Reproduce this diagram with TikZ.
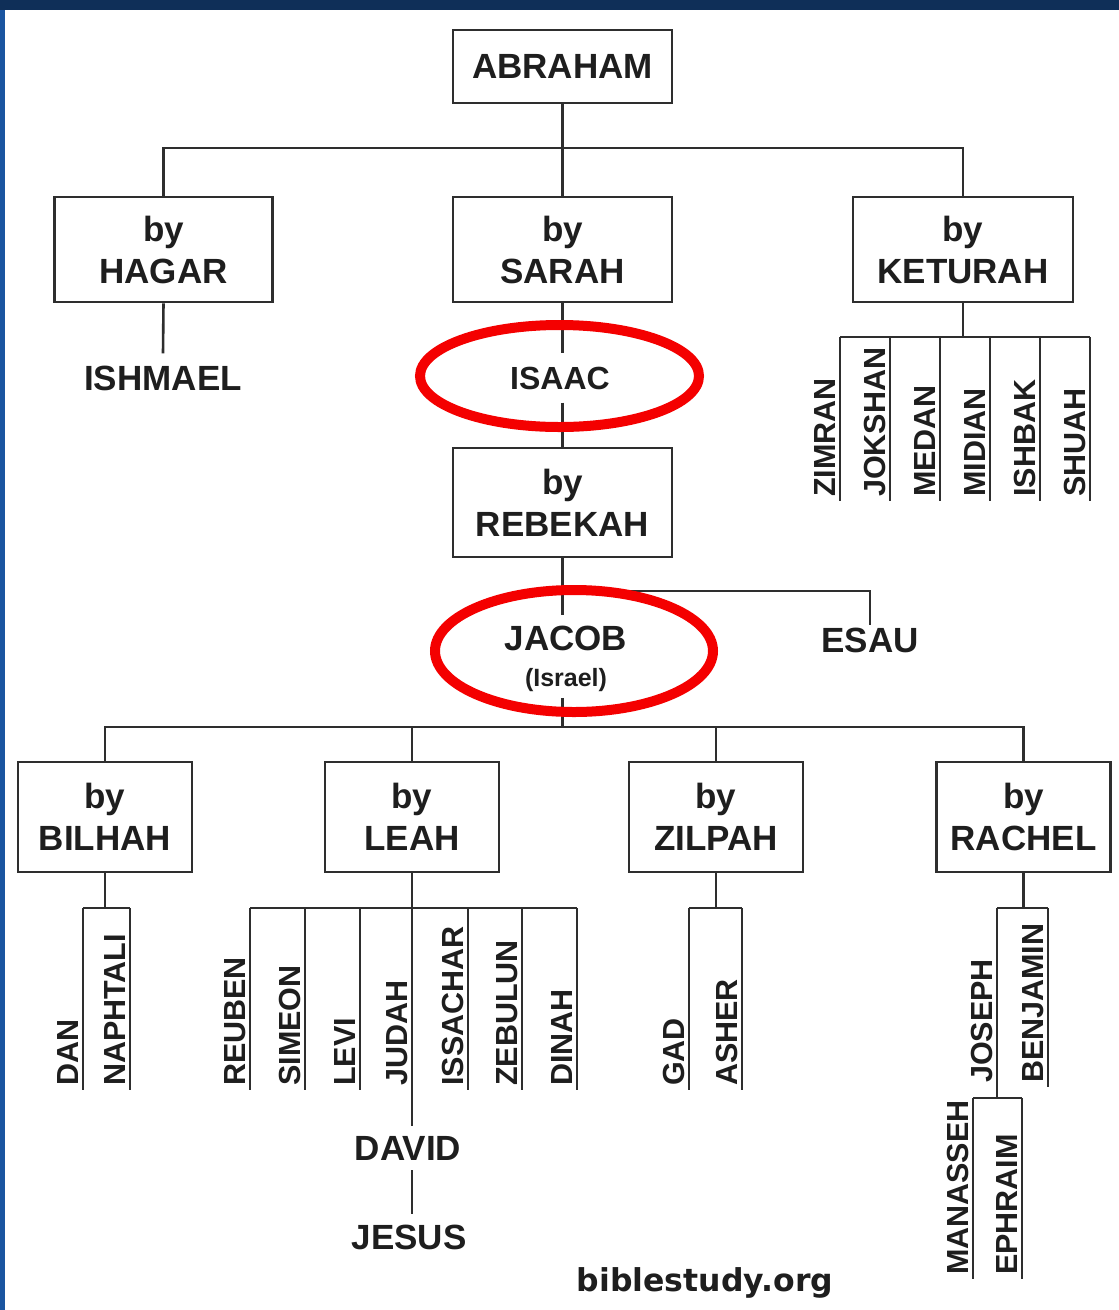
\documentclass[tikz,border=0pt]{standalone}
\usepackage{fontspec}
\setmainfont{Liberation Sans}
\newfontfamily\webfont{DejaVu Sans}
\definecolor{ink}{HTML}{1E1E1E}
\definecolor{linegray}{HTML}{2E2E2E}
\definecolor{ringred}{HTML}{F40000}
\definecolor{topblue}{HTML}{0F2F58}
\definecolor{sideblue}{HTML}{1A55A0}
\begin{document}
\begin{tikzpicture}[x=1pt,y=-1pt,
  box/.style={draw=linegray, line width=2.6pt, fill=white, align=center, text=ink,
    font=\fontsize{35}{42}\selectfont\bfseries, inner sep=0pt},
  upbox/.style={box, minimum width=218pt, minimum height=105pt},
  lowbox/.style={box, minimum width=174pt, minimum height=110pt},
  link/.style={draw=linegray, line width=2.6pt},
  sepline/.style={draw=linegray, line width=2pt},
  person/.style={text=ink, font=\fontsize{35}{42}\selectfont\bfseries, inner xsep=0pt, inner ysep=12pt},
  vname/.style={rotate=90, anchor=south west, inner sep=4pt, text=ink,
    font=\fontsize{30.5}{36}\selectfont\bfseries},
  ring/.style={draw=ringred, line width=10pt}]
\useasboundingbox (0,0) rectangle (1119,1310);
% background
\fill[sideblue] (0,0) rectangle (1119,1310);
\fill[topblue] (0,0) rectangle (1119,10);
\fill[white] (5,10) rectangle (1119,1310);

% top generation
\node[box, minimum width=219pt, minimum height=73pt] (abraham) at (562.5,66.5) {ABRAHAM};
\node[upbox] (hagar) at (163.5,249.5) {by\\HAGAR};
\node[upbox, minimum width=219pt] (sarah) at (562.5,249.5) {by\\SARAH};
\node[upbox, minimum width=220pt] (keturah) at (963,249.5) {by\\KETURAH};
\coordinate (topbar) at (562.5,148);
\draw[link] (abraham.south) -- (sarah.north);
\draw[link] (hagar.north) |- (topbar) -| (keturah.north);

% Hagar / Sarah
\node[person] (ishmael) at (163,378) {ISHMAEL};
\draw[link] (hagar.south) -- (ishmael.north);
\node[person, inner ysep=13pt, font=\fontsize{32}{38}\selectfont\bfseries] (isaac) at (560,378) {ISAAC};
\draw[link] (sarah.south) -- (sarah.south |- isaac.north);
\node[box, minimum width=219pt, minimum height=109pt] (rebekah) at (562.5,502.5) {by\\REBEKAH};
\draw[link] (rebekah.north |- isaac.south) -- (rebekah.north);

% Keturah's sons
\coordinate (ketbar) at (963,337);
\draw[link] (keturah.south) -- (ketbar);
\foreach \x/\n/\id in {840/ZIMRAN/zimran, 890/JOKSHAN/jokshan, 940/MEDAN/medan,
    990/MIDIAN/midian, 1040/ISHBAK/ishbak, 1090/SHUAH/shuah} {
  \coordinate (\id-top) at (\x,337);
  \node[vname] (\id) at (\x,501) {\n};
  \draw[sepline] (\id-top) -- (\id.south west);
}
\draw[link] (zimran-top) -- (shuah-top);

% Jacob and Esau
\node[person, inner ysep=10pt] (jacob) at (566,638) {JACOB};
\node[text=ink, font=\fontsize{25}{30}\selectfont\bfseries, inner xsep=0pt, inner ysep=6pt] (israel) at (566,680) {(Israel)};
\draw[link] (rebekah.south) -- (rebekah.south |- jacob.north);
\node[person, inner ysep=2pt] (esau) at (870,640) {ESAU};
\coordinate (esaubar) at (562.5,591);
\draw[link] (esaubar) -| (esau.north);

% Jacob's wives
\coordinate (lowbar) at (562.5,727);
\draw[link] (lowbar |- israel.south) -- (lowbar);
\node[lowbox] (bilhah) at (105,817) {by\\BILHAH};
\node[lowbox] (leah) at (412,817) {by\\LEAH};
\node[lowbox] (zilpah) at (716,817) {by\\ZILPAH};
\node[lowbox] (rachel) at (1023.5,817) {by\\RACHEL};
\draw[link] (bilhah.north) |- (lowbar) -| (rachel.north);
\draw[link] (leah.north) -- (leah.north |- lowbar);
\draw[link] (zilpah.north) -- (zilpah.north |- lowbar);

% Bilhah's sons
\foreach \x/\n/\id in {83/DAN/dan, 130/NAPHTALI/naphtali} {
  \coordinate (\id-top) at (\x,908);
  \node[vname] (\id) at (\x,1090) {\n};
  \draw[sepline] (\id-top) -- (\id.south west);
}
\draw[link] (dan-top) -- (naphtali-top);
\draw[link] (bilhah.south) -- (bilhah.south |- dan-top);

% Leah's children
\foreach \x/\n/\id in {250/REUBEN/reuben, 305/SIMEON/simeon, 360/LEVI/levi,
    412/JUDAH/judah, 468/ISSACHAR/issachar, 522/ZEBULUN/zebulun, 577/DINAH/dinah} {
  \coordinate (\id-top) at (\x,908);
  \node[vname] (\id) at (\x,1090) {\n};
  \draw[sepline] (\id-top) -- (\id.south west);
}
\draw[link] (reuben-top) -- (dinah-top);
\node[person, inner ysep=10pt] (david) at (408,1148) {DAVID};
\node[person, inner ysep=10pt] (jesus) at (409,1237) {JESUS};
\draw[link] (leah.south) -- (leah.south |- david.north);
\draw[link] (leah.south |- david.south) -- (leah.south |- jesus.north);

% Zilpah's sons
\foreach \x/\n/\id in {689/GAD/gad, 742/ASHER/asher} {
  \coordinate (\id-top) at (\x,908);
  \node[vname] (\id) at (\x,1090) {\n};
  \draw[sepline] (\id-top) -- (\id.south west);
}
\draw[link] (gad-top) -- (asher-top);
\draw[link] (zilpah.south) -- (zilpah.south |- gad-top);

% Rachel's sons
\foreach \x/\n/\id in {997/JOSEPH/joseph, 1048/BENJAMIN/benjamin} {
  \coordinate (\id-top) at (\x,908);
  \node[vname] (\id) at (\x,1087) {\n};
  \draw[sepline] (\id-top) -- (\id.south west);
}
\draw[link] (joseph-top) -- (benjamin-top);
\draw[link] (rachel.south) -- (rachel.south |- joseph-top);
\coordinate (josephbar) at (997,1098);
\draw[sepline] (joseph.south west) -- (josephbar);
\foreach \x/\n/\id in {973/MANASSEH/manasseh, 1022/EPHRAIM/ephraim} {
  \coordinate (\id-top) at (\x,1098);
  \node[vname] (\id) at (\x,1279) {\n};
  \draw[sepline] (\id-top) -- (\id.south west);
}
\draw[link] (manasseh-top) -- (ephraim-top);

% highlight rings
\draw[ring] (559.5,376) ellipse [x radius=139.5pt, y radius=51pt];
\draw[ring] (574,651) ellipse [x radius=139pt, y radius=61pt];

% credit
\node[text=ink, font=\webfont\fontsize{31.5}{36}\selectfont\bfseries, inner sep=0pt] (credit) at (705,1283) {biblestudy.org};
\end{tikzpicture}
\end{document}
